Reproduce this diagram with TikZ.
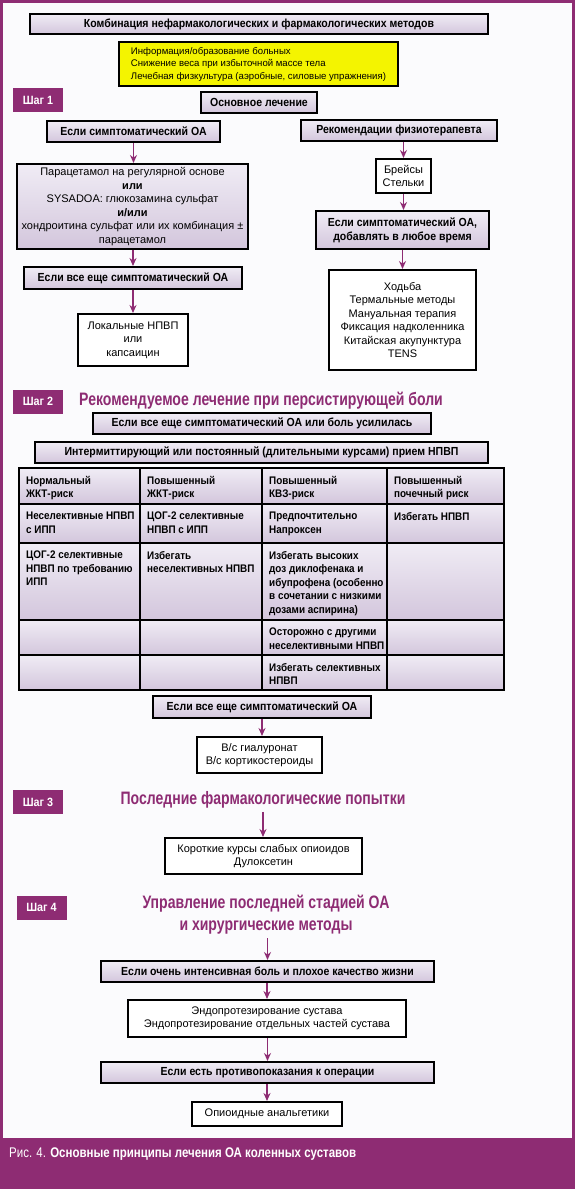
\documentclass[tikz,border=0pt]{standalone}
\usepackage{fontspec}
\setmainfont{Liberation Sans}
\newfontfamily\condfont{Liberation Sans}[FakeStretch=0.82]
\newfontfamily\boxfont{Liberation Sans}[FakeStretch=0.9]
\newfontfamily\headfont{Liberation Sans}[FakeStretch=0.78]
\usetikzlibrary{arrows.meta}
\definecolor{stepPurple}{HTML}{8E2C73}
\definecolor{boxTop}{HTML}{F0ECF5}
\definecolor{boxBot}{HTML}{D3C6DC}
\definecolor{noteYellow}{HTML}{F4F400}
\definecolor{pageBg}{HTML}{FBFBFD}

\begin{document}
\begin{tikzpicture}[%
            x=1pt, y=-1pt,
            shadebox/.style={draw, line width=2pt, top color=boxTop, bottom color=boxBot, inner sep=2pt, align=center, font=\fontsize{11}{13.5}\selectfont},
            condbox/.style={shadebox, font=\boxfont\bfseries\fontsize{11.7}{14}\selectfont},
            plainbox/.style={draw, line width=2pt, fill=white, inner sep=2pt, align=center, font=\fontsize{11}{13.5}\selectfont},
            badge/.style={fill=stepPurple, text=white, minimum width=50pt, minimum height=24pt, font=\boxfont\bfseries\fontsize{12}{14}\selectfont},
            heading/.style={text=stepPurple, align=center, font=\headfont\bfseries\fontsize{18}{22}\selectfont},
            cell/.style={anchor=north west, inner sep=0pt, align=left, font=\boxfont\bfseries\fontsize{11}{13.5}\selectfont},
            arrow/.style={->,>={Stealth[length=8pt,width=7pt]},line width=1.6pt,draw=stepPurple}
        ]
        \useasboundingbox (0,0) rectangle (574,1189);
        
        % Page and frame
        \fill[pageBg] (0,0) rectangle (574,1189);
        \draw[stepPurple, line width=5pt] (0,0) rectangle (574,1189);
        \fill[stepPurple] (0,1138) rectangle (574,1189);
        
        % Common part
        \node[condbox, minimum width=458pt, minimum height=20pt] (combo) at (259,24) {Комбинация нефармакологических и фармакологических методов};
        \node[draw, line width=2pt, fill=noteYellow, minimum width=279pt, minimum height=44pt, align=left, font=\fontsize{9.6}{12.5}\selectfont] (basics) at (258.5,64) {Информация/образование больных\\Снижение веса при избыточной массе тела\\Лечебная физкультура (аэробные, силовые упражнения)};
        
        % Step 1
        \node[badge] (step1) at (38,100) {Шаг 1};
        \node[condbox, minimum width=116pt, minimum height=21pt] (core) at (259,102.5) {Основное лечение};
        \node[condbox, minimum width=173pt, minimum height=21pt] (symp) at (133.5,131.5) {Если симптоматический ОА};
        \node[condbox, minimum width=196pt, minimum height=21pt] (physio) at (399,130.5) {Рекомендации физиотерапевта};
        \node[shadebox, minimum width=231pt, minimum height=85pt] (parac) at (132.5,206.5) {Парацетамол на регулярной основе\\\textbf{или}\\SYSADOA: глюкозамина сульфат\\\textbf{и/или}\\хондроитина сульфат или их комбинация ±\\парацетамол};
        \node[condbox, minimum width=218pt, minimum height=22pt] (still1) at (133,278) {Если все еще симптоматический ОА};
        \node[plainbox, minimum width=110pt, minimum height=52pt] (local) at (133,340) {Локальные НПВП\\или\\капсаицин};
        \node[plainbox, minimum width=55pt, minimum height=34pt] (braces) at (403.5,176) {Брейсы\\Стельки};
        \node[condbox, minimum width=173pt, minimum height=38pt] (anytime) at (402.5,230) {Если симптоматический ОА,\\добавлять в любое время};
        \node[plainbox, minimum width=147pt, minimum height=100pt] (walk) at (402.5,320) {Ходьба\\Термальные методы\\Мануальная терапия\\Фиксация надколенника\\Китайская акупунктура\\TENS};
        
        \draw[arrow] (symp.south) -- (symp.south |- parac.north);
        \draw[arrow] (parac.south -| still1.north) -- (still1.north);
        \draw[arrow] (still1.south) -- (still1.south |- local.north);
        \draw[arrow] (physio.south -| braces.north) -- (braces.north);
        \draw[arrow] (braces.south) -- (braces.south |- anytime.north);
        \draw[arrow] (anytime.south) -- (anytime.south |- walk.north);
        
        % Step 2
        \node[badge] (step2) at (38,401.5) {Шаг 2};
        \node[heading] (head2) at (261,401) {Рекомендуемое лечение при персистирующей боли};
        \node[condbox, minimum width=338pt, minimum height=21pt] (still2) at (262,423.5) {Если все еще симптоматический ОА или боль усилилась};
        \node[condbox, minimum width=453pt, minimum height=21pt] (nsaid) at (261.5,452.5) {Интермиттирующий или постоянный (длительными курсами) прием НПВП};
        
        % Risk table
        \foreach \xa/\xb in {19/140,140/262,262/387,387/504}
          \foreach \ya/\yb in {468/504,504/543,543/620,620/655,655/690}
            \shade[top color=boxTop, bottom color=boxBot] (\xa,\ya) rectangle (\xb,\yb);
        \draw[line width=2pt] (19,468) rectangle (504,690);
        \foreach \xc in {140,262,387}
          \draw[line width=2pt] (\xc,468) -- (\xc,690);
        \foreach \yc in {504,543,620,655}
          \draw[line width=2pt] (19,\yc) -- (504,\yc);
        
        \node[cell] (r1c1) at (26,476) {Нормальный\\ЖКТ-риск};
        \node[cell] (r1c2) at (147,476) {Повышенный\\ЖКТ-риск};
        \node[cell] (r1c3) at (269,476) {Повышенный\\КВЗ-риск};
        \node[cell] (r1c4) at (394,476) {Повышенный\\почечный риск};
        \node[cell] (r2c1) at (26,512) {Неселективные НПВП\\с ИПП};
        \node[cell] (r2c2) at (147,512) {ЦОГ-2 селективные\\НПВП с ИПП};
        \node[cell] (r2c3) at (269,512) {Предпочтительно\\Напроксен};
        \node[cell] (r2c4) at (394,512) {Избегать НПВП};
        \node[cell] (r3c1) at (26,551) {ЦОГ-2 селективные\\НПВП по требованию\\ИПП};
        \node[cell] (r3c2) at (147,551) {Избегать\\неселективных НПВП};
        \node[cell] (r3c3) at (269,551) {Избегать высоких\\доз диклофенака и\\ибупрофена (особенно\\в сочетании с низкими\\дозами аспирина)};
        \node[cell] (r4c3) at (269,628) {Осторожно с другими\\неселективными НПВП};
        \node[cell] (r5c3) at (269,663) {Избегать селективных\\НПВП};
        
        \node[condbox, minimum width=218pt, minimum height=22pt] (still3) at (262,707) {Если все еще симптоматический ОА};
        \node[plainbox, minimum width=125pt, minimum height=36pt] (inject) at (259.5,755) {В/с гиалуронат\\В/с кортикостероиды};
        \draw[arrow] (still3.south) -- (still3.south |- inject.north);
        
        % Step 3
        \node[badge] (step3) at (38,802) {Шаг 3};
        \node[heading] (head3) at (263,800) {Последние фармакологические попытки};
        \node[plainbox, minimum width=197pt, minimum height=36pt] (opioid) at (263.5,856) {Короткие курсы слабых опиоидов\\Дулоксетин};
        \draw[arrow] (head3.south) -- (head3.south |- opioid.north);
        
        % Step 4
        \node[badge] (step4) at (41.5,907.5) {Шаг 4};
        \node[heading] (head4) at (266,915) {Управление последней стадией ОА\\и хирургические методы};
        \node[condbox, minimum width=333pt, minimum height=21pt] (pain) at (267.5,971.5) {Если очень интенсивная боль и плохое качество жизни};
        \node[plainbox, minimum width=278pt, minimum height=37pt] (endo) at (267,1018.5) {Эндопротезирование сустава\\Эндопротезирование отдельных частей сустава};
        \node[condbox, minimum width=333pt, minimum height=21pt] (contra) at (267.5,1072.5) {Если есть противопоказания к операции};
        \node[plainbox, minimum width=150pt, minimum height=24pt] (analg) at (267,1114) {Опиоидные анальгетики};
        
        \draw[arrow] (head4.south -| pain.north) -- (pain.north);
        \draw[arrow] (pain.south -| endo.north) -- (endo.north);
        \draw[arrow] (endo.south -| contra.north) -- (contra.north);
        \draw[arrow] (contra.south -| analg.north) -- (analg.north);
        
        % Caption
        \node[anchor=west, text=white, inner sep=0pt, font=\condfont\fontsize{14}{16}\selectfont] (caption) at (9,1154) {Рис. 4. \textbf{Основные принципы лечения ОА коленных суставов}};
        
        \end{tikzpicture}
\end{document}
